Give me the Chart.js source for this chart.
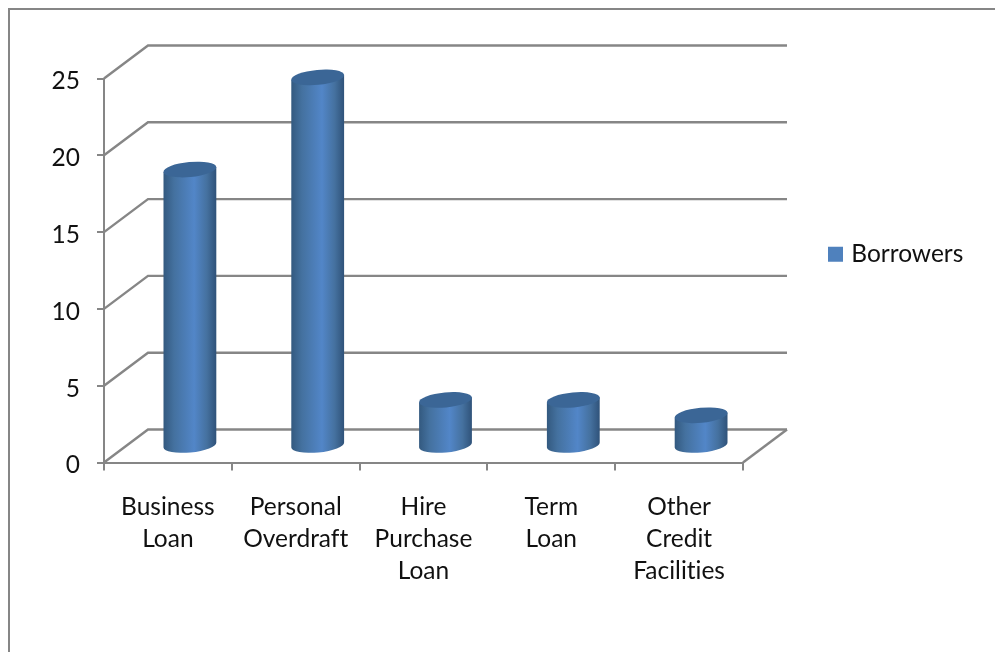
<!DOCTYPE html>
<html>
<head>
<meta charset="utf-8">
<title>Borrowers</title>
<script src="https://cdn.jsdelivr.net/npm/chart.js@4/dist/chart.umd.min.js"></script>
<style>
    html, body { margin: 0; padding: 0; background: #fff; overflow: hidden; }
    canvas { display: block; }
</style>
</head>
<body>
<canvas id="chart" width="995" height="652"></canvas>
<script>
const categories = [
    ['Business', 'Loan'],
    ['Personal', 'Overdraft'],
    ['Hire', 'Purchase', 'Loan'],
    ['Term', 'Loan'],
    ['Other', 'Credit', 'Facilities']
];
const borrowers = [18, 24, 3, 3, 2];
const seriesName = 'Borrowers';
const yTicks = [0, 5, 10, 15, 20, 25];

const axisGrey = '#868686';
const textColour = '#111111';
const swatchColour = '#4f81bd';
const fontFamily = 'Lato, "Open Sans", sans-serif';
const fontSize = 24.5;

// depth of the fake 3D floor and walls
const depthX = 44;
const depthY = 33;

function greyLine(ctx, points, width) {
    ctx.beginPath();
    points.forEach((p, i) => i ? ctx.lineTo(p[0], p[1]) : ctx.moveTo(p[0], p[1]));
    ctx.lineWidth = width;
    ctx.strokeStyle = axisGrey;
    ctx.stroke();
}

const framePlugin = {
    id: 'frame',
    beforeDraw(chart) {
        // no ligatures in the labels
        chart.ctx.textRendering = 'optimizeSpeed';
        // outer chart border, only top and left fall inside the page
        greyLine(chart.ctx, [[9, chart.height], [9, 9], [chart.width, 9]], 2);
    }
};

const wallsPlugin = {
    id: 'walls',
    beforeDatasetsDraw(chart) {
        const ctx = chart.ctx;
        const area = chart.chartArea;
        const y = chart.scales.y;
        yTicks.forEach(tick => {
            const py = y.getPixelForValue(tick);
            greyLine(ctx, [
                [area.left, py],
                [area.left + depthX, py - depthY],
                [area.right + depthX, py - depthY]
            ], 2.4);
        });
        greyLine(ctx, [[area.right, area.bottom], [area.right + depthX, area.bottom - depthY]], 2.4);
    }
};

const cylinderPlugin = {
    id: 'cylinder',
    beforeDatasetDraw(chart, args) {
        const ctx = chart.ctx;
        const tilt = -5.4 * Math.PI / 180;
        args.meta.data.forEach(bar => {
            const cx = bar.x + depthX / 2;
            const top = bar.y - depthY / 2;
            const base = bar.base - depthY / 2;
            const rx = bar.width / 2;
            const ry = 7.5;
            const ex = rx * Math.cos(tilt);
            const ey = rx * Math.sin(tilt);

            const body = ctx.createLinearGradient(cx - rx, 0, cx + rx, 0);
            body.addColorStop(0, '#33597f');
            body.addColorStop(0.2, '#44719f');
            body.addColorStop(0.58, '#5286c8');
            body.addColorStop(0.82, '#45719f');
            body.addColorStop(1, '#2f5279');

            ctx.save();
            ctx.beginPath();
            ctx.moveTo(cx - ex, top - ey);
            ctx.lineTo(cx - ex, base - ey);
            ctx.ellipse(cx, base, rx, ry, tilt, Math.PI, 0, true);
            ctx.lineTo(cx + ex, top + ey);
            ctx.closePath();
            ctx.fillStyle = body;
            ctx.fill();

            ctx.beginPath();
            ctx.ellipse(cx, top, rx, ry, tilt, 0, Math.PI * 2);
            ctx.fillStyle = '#3b6696';
            ctx.fill();
            ctx.restore();
        });
        return false;
    }
};

const legendPlugin = {
    id: 'legendPlace',
    afterLayout(chart) {
        const legend = chart.legend;
        const w = legend.width;
        const h = legend.height;
        legend.left = 828;
        legend.right = legend.left + w + 20;
        legend.top = 238;
        legend.bottom = legend.top + h + 20;
    }
};

new Chart(document.getElementById('chart'), {
    type: 'bar',
    data: {
        labels: categories,
        datasets: [{
            label: seriesName,
            data: borrowers,
            backgroundColor: swatchColour,
            borderWidth: 0,
            barPercentage: 0.415,
            categoryPercentage: 1
        }]
    },
    plugins: [framePlugin, wallsPlugin, cylinderPlugin, legendPlugin],
    options: {
        responsive: false,
        animation: false,
        layout: {
            autoPadding: false,
            padding: {left: 0, top: 78.5, right: 252, bottom: 0}
        },
        plugins: {
            tooltip: {enabled: false},
            title: {display: false},
            legend: {
                position: 'chartArea',
                align: 'start',
                labels: {
                    // small box with a thick outline keeps the text close to the 15px swatch
                    boxWidth: 7,
                    boxHeight: 7,
                    padding: 4,
                    color: textColour,
                    font: {family: fontFamily, size: fontSize},
                    generateLabels(chart) {
                        return chart.data.datasets.map((ds, i) => ({
                            text: ds.label,
                            fillStyle: ds.backgroundColor,
                            strokeStyle: ds.backgroundColor,
                            lineWidth: 8,
                            fontColor: textColour,
                            datasetIndex: i
                        }));
                    }
                }
            }
        },
        scales: {
            x: {
                afterFit(scale) { scale.height = 189.5; },
                border: {color: axisGrey, width: 2},
                grid: {
                    color: axisGrey,
                    lineWidth: 2,
                    drawOnChartArea: false,
                    tickLength: 8
                },
                ticks: {
                    color: textColour,
                    autoSkip: false,
                    maxRotation: 0,
                    padding: 21,
                    font: {family: fontFamily, size: fontSize, lineHeight: 32 / fontSize}
                }
            },
            y: {
                min: 0,
                max: 25,
                afterFit(scale) { scale.width = 104; },
                border: {color: axisGrey, width: 2},
                grid: {
                    color: axisGrey,
                    lineWidth: 2,
                    drawOnChartArea: false,
                    tickLength: 7
                },
                ticks: {
                    stepSize: 5,
                    color: textColour,
                    padding: 17,
                    // empty first line nudges the number a little under its tick
                    callback: value => ['', value],
                    font: {family: fontFamily, size: fontSize, lineHeight: 6 / fontSize}
                }
            }
        }
    }
});
</script>
</body>
</html>
